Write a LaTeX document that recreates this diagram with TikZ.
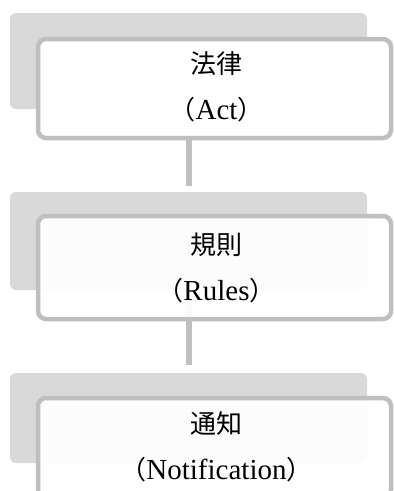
\documentclass[tikz,border=0pt]{standalone}
\usepackage{fontspec}
\usetikzlibrary{calc}
\newfontfamily\cjk{Noto Sans CJK JP}
\newfontfamily\latserif{Liberation Serif}
\newcommand\latn[1]{{\latserif\fontsize{29}{46}\selectfont #1}}
\definecolor{backgray}{HTML}{D9D9D9}
\definecolor{linegray}{HTML}{BFBFBF}
\tikzset{
  backbox/.style={fill=backgray, draw=none, rounded corners=6pt, anchor=north west, inner sep=0pt, outer sep=0pt},
  frontbox/.style={draw=linegray, line width=4.5pt, fill=white, rounded corners=8pt, anchor=north west, inner sep=0pt, outer sep=0pt, minimum width=353pt},
  seethru/.style={fill opacity=0.93, text opacity=1},
  label/.style={font=\fontsize{26}{46}\selectfont, align=center, inner sep=0pt},
  link/.style={draw=linegray, line width=5.5pt}
}
\begin{document}
\begin{tikzpicture}[x=1pt,y=-1pt]
\useasboundingbox (0,0) rectangle (394,491);
\clip (0,0) rectangle (394,491);
% back boxes
\node[backbox, minimum width=357pt, minimum height=96pt] (b1) at (10,13) {};
\node[backbox, minimum width=357pt, minimum height=98pt] (b2) at (10,192) {};
\node[backbox, minimum width=357pt, minimum height=90pt] (b3) at (10,373) {};
% connectors
\coordinate (e1) at ($(b2.north)+(0.5,-6)$);
\coordinate (e2) at ($(b3.north)+(0.5,-8)$);
\draw[link] ($(b1.south)+(0.5,0)$) -- (e1);
\draw[link] ($(b2.south)+(0.5,0)$) -- (e2);
% front boxes
\node[frontbox, minimum height=99pt] (f1) at (38,39) {};
\node[frontbox, seethru, minimum height=103pt] (f2) at (38,216) {};
\node[frontbox, seethru, minimum height=100pt] (f3) at (38,398) {};
% labels
\node[label] (t1) at ($(f1.center)+(2,-2)$) {{\cjk 法律}\\{\cjk （}\latn{Act}{\cjk ）}};
\node[label] (t2) at ($(f2.center)+(2,0)$) {{\cjk 規則}\\{\cjk （}\latn{Rules}{\cjk ）}};
\node[label] (t3) at ($(f3.center)+(2,-1)$) {{\cjk 通知}\\{\cjk （}\latn{Notification}{\cjk ）}};
\end{tikzpicture}
\end{document}
